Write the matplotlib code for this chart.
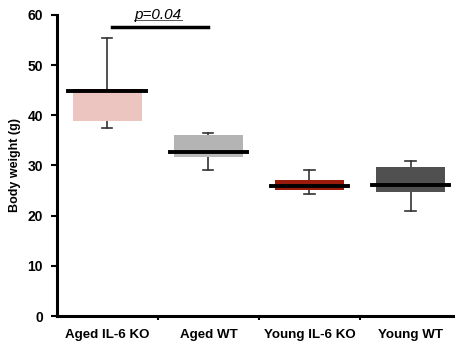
import matplotlib
matplotlib.use("Agg")
import matplotlib.pyplot as plt
import numpy as np

plt.rcParams['font.family'] = ['Liberation Sans', 'DejaVu Sans']

groups = ["Aged IL-6 KO", "Aged WT", "Young IL-6 KO", "Young WT"]
q1 = [38.8, 31.7, 25.1, 24.8]
med = [44.8, 32.7, 25.9, 26.1]
q3 = [45.2, 36.0, 27.1, 29.6]
wmin = [37.4, 29.1, 24.3, 20.9]
wmax = [55.4, 36.4, 29.0, 30.8]
lower_col = ["#ecc5c1", "#b9b9b9", "#9a1a0b", "#505050"]
upper_col = ["#9a1a0b", "#b4b4b4", "#9a1a0b", "#505050"]
p_text = "p=0.04"
p_y = 57.5

x = np.arange(len(groups))
q1 = np.array(q1); med = np.array(med); q3 = np.array(q3)

fig = plt.figure(figsize=(4.55, 3.45), dpi=100)
ax = fig.add_axes([0.125, 0.084, 0.875, 0.873])

bw = 0.68
ax.bar(x, med - q1, bottom=q1, width=bw, color=lower_col, zorder=2)
ax.bar(x, q3 - med, bottom=med, width=bw, color=upper_col, zorder=2)

# whiskers + median
for i in range(len(x)):
    ax.plot([x[i], x[i]], [q3[i], wmax[i]], color="#333333", lw=1.2, zorder=1)
    ax.plot([x[i], x[i]], [q1[i], wmin[i]], color="#333333", lw=1.2, zorder=1)
    ax.plot([x[i] - 0.05, x[i] + 0.05], [wmax[i], wmax[i]], color="#333333", lw=1.2)
    ax.plot([x[i] - 0.05, x[i] + 0.05], [wmin[i], wmin[i]], color="#333333", lw=1.2)
    ax.plot([x[i] - 0.385, x[i] + 0.385], [med[i], med[i]], color="black", lw=2.8, zorder=3)

# significance bar
ax.plot([0.05, 1.0], [p_y, p_y], color="black", lw=2.5)
ax.text(0.5, 59.2, p_text, style="italic", ha="center", va="baseline", fontsize=11)
ax.plot([0.26, 0.74], [59.0, 59.0], color="#555555", lw=0.7, clip_on=False)

ax.set_xlim(-0.5, 3.44)
ax.set_ylim(0, 60)
ax.set_yticks([0, 10, 20, 30, 40, 50, 60])
ax.set_xticks([0.5, 1.5, 2.5])
ax.set_xticklabels([])
ax.set_xticks(x, minor=True)
ax.set_xticklabels(groups, minor=True, fontweight="bold", fontsize=9.6)
ax.tick_params(axis="x", which="minor", length=0, pad=9)
ax.tick_params(axis="x", which="major", length=3, width=1.5, direction="out")
ax.tick_params(axis="y", length=4, width=1.5, labelsize=10, pad=6)
for lab in ax.get_yticklabels():
    lab.set_fontweight("bold")

for s in ["top", "right"]:
    ax.spines[s].set_visible(False)
ax.spines["left"].set_linewidth(2.2)
ax.spines["bottom"].set_linewidth(2.2)

ax.set_ylabel("Body weight (g)", fontweight="bold", fontsize=9, labelpad=5)

fig.savefig("out.png", dpi=100)
